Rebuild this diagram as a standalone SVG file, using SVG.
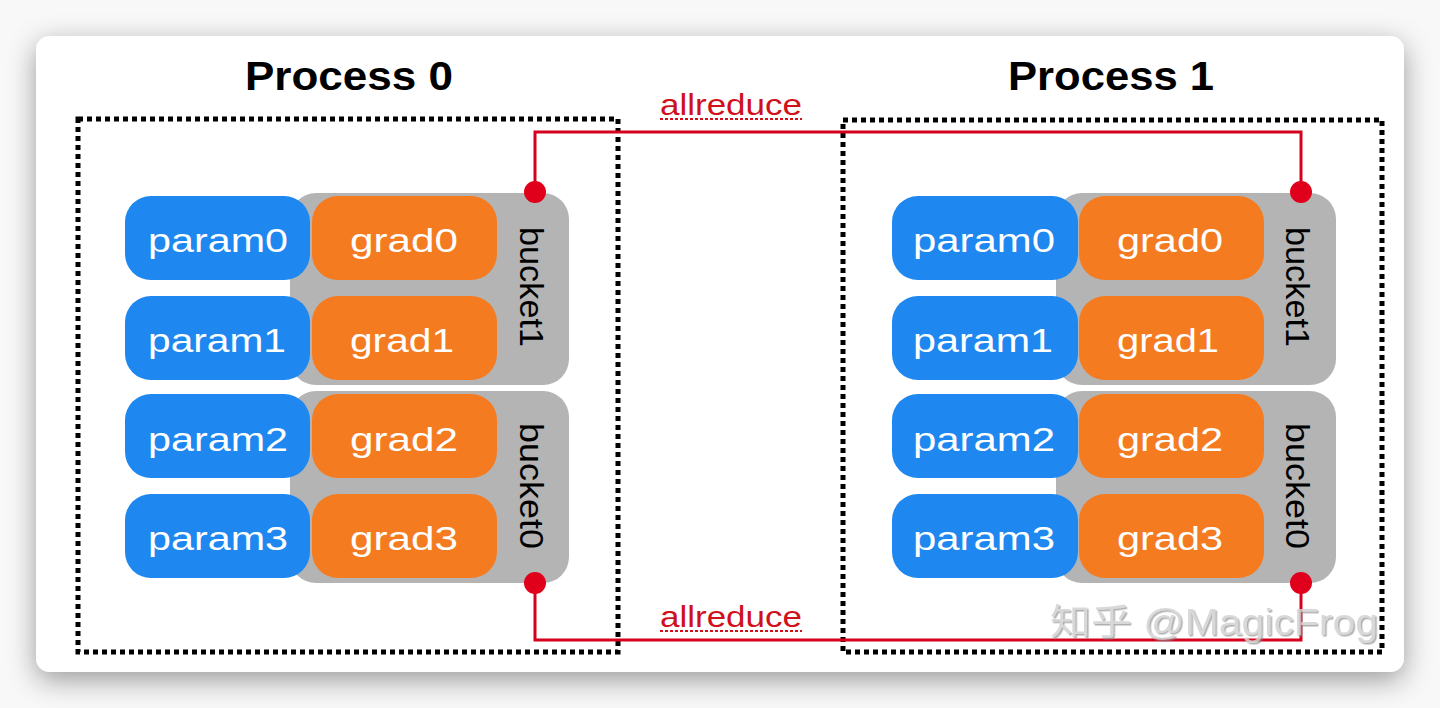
<svg xmlns="http://www.w3.org/2000/svg" width="1440" height="708" viewBox="0 0 1440 708">
<defs>
<filter id="shadow" x="-10%" y="-15%" width="120%" height="135%">
<feDropShadow dx="0" dy="8" stdDeviation="14" flood-color="#000" flood-opacity="0.38"/>
</filter>
<filter id="emboss" x="-5%" y="-20%" width="110%" height="140%">
<feDropShadow dx="1.5" dy="1.5" stdDeviation="0.6" flood-color="#8a8a8a" flood-opacity="0.8"/>
</filter>
</defs>
<style>
.title{font-family:"Liberation Sans",Arial,sans-serif;font-weight:bold;font-size:40px;fill:#000;text-anchor:middle}
.box{font-family:"Liberation Sans",Arial,sans-serif;font-size:33px;fill:#fff;text-anchor:middle}
.bk{font-family:"Liberation Sans",Arial,sans-serif;font-size:33px;fill:#000;text-anchor:middle}
.param{fill:#1e87f0}
.grad{fill:#f47b20}
.bucket{fill:#b4b4b4}
.frame{fill:none;stroke:#000;stroke-width:5;stroke-dasharray:5 4}
.wire{fill:none;stroke:#d5001c;stroke-width:3}
.dot{fill:#e0001b}
.lbl{font-family:"Liberation Sans",Arial,sans-serif;font-size:30px;fill:#d0101b;text-anchor:middle}
.ul{stroke:#d0101b;stroke-width:2;stroke-dasharray:3 2}
.wm{font-family:"Liberation Sans","Noto Sans CJK SC",sans-serif;font-size:36px;fill:#d2d2d2}
</style>
<rect x="0" y="0" width="1440" height="708" fill="#f8f8f8"/>
<rect x="36" y="36" width="1368" height="636" rx="14" fill="#fff" filter="url(#shadow)"/>

<g id="process0">
<text class="title" x="349" y="90" textLength="208" lengthAdjust="spacingAndGlyphs">Process 0</text>
<rect class="frame" x="78" y="119" width="540" height="533"/>
<g id="p0-bucket1">
<rect class="bucket" x="290" y="193" width="279" height="192" rx="26"/>
<text class="bk" transform="translate(520,287) rotate(90)" textLength="120" lengthAdjust="spacingAndGlyphs">bucket1</text>
</g>
<g id="p0-bucket0">
<rect class="bucket" x="290" y="391" width="279" height="192" rx="26"/>
<text class="bk" transform="translate(520,486) rotate(90)" textLength="126" lengthAdjust="spacingAndGlyphs">bucket0</text>
</g>
<g id="p0-param0"><rect class="param" x="125" y="196" width="185" height="84" rx="26"/><text class="box" x="218" y="252" textLength="140" lengthAdjust="spacingAndGlyphs">param0</text></g>
<g id="p0-param1"><rect class="param" x="125" y="296" width="185" height="84" rx="26"/><text class="box" x="217" y="352" textLength="138" lengthAdjust="spacingAndGlyphs">param1</text></g>
<g id="p0-param2"><rect class="param" x="125" y="394" width="185" height="84" rx="26"/><text class="box" x="218" y="451" textLength="140" lengthAdjust="spacingAndGlyphs">param2</text></g>
<g id="p0-param3"><rect class="param" x="125" y="494" width="185" height="84" rx="26"/><text class="box" x="218" y="550" textLength="140" lengthAdjust="spacingAndGlyphs">param3</text></g>
<g id="p0-grad0"><rect class="grad" x="312" y="196" width="185" height="84" rx="26"/><text class="box" x="404" y="252" textLength="108" lengthAdjust="spacingAndGlyphs">grad0</text></g>
<g id="p0-grad1"><rect class="grad" x="312" y="296" width="185" height="84" rx="26"/><text class="box" x="402" y="352" textLength="104" lengthAdjust="spacingAndGlyphs">grad1</text></g>
<g id="p0-grad2"><rect class="grad" x="312" y="394" width="185" height="84" rx="26"/><text class="box" x="404" y="451" textLength="108" lengthAdjust="spacingAndGlyphs">grad2</text></g>
<g id="p0-grad3"><rect class="grad" x="312" y="494" width="185" height="84" rx="26"/><text class="box" x="404" y="550" textLength="108" lengthAdjust="spacingAndGlyphs">grad3</text></g>
</g>

<g id="process1">
<text class="title" x="1111" y="90" textLength="206" lengthAdjust="spacingAndGlyphs">Process 1</text>
<rect class="frame" x="843" y="120" width="539" height="532"/>
<g id="p1-bucket1">
<rect class="bucket" x="1056" y="193" width="280" height="192" rx="26"/>
<text class="bk" transform="translate(1286,287) rotate(90)" textLength="120" lengthAdjust="spacingAndGlyphs">bucket1</text>
</g>
<g id="p1-bucket0">
<rect class="bucket" x="1056" y="391" width="280" height="192" rx="26"/>
<text class="bk" transform="translate(1286,486) rotate(90)" textLength="126" lengthAdjust="spacingAndGlyphs">bucket0</text>
</g>
<g id="p1-param0"><rect class="param" x="892" y="196" width="186" height="84" rx="26"/><text class="box" x="984" y="252" textLength="142" lengthAdjust="spacingAndGlyphs">param0</text></g>
<g id="p1-param1"><rect class="param" x="892" y="296" width="186" height="84" rx="26"/><text class="box" x="983" y="352" textLength="140" lengthAdjust="spacingAndGlyphs">param1</text></g>
<g id="p1-param2"><rect class="param" x="892" y="394" width="186" height="84" rx="26"/><text class="box" x="984" y="451" textLength="142" lengthAdjust="spacingAndGlyphs">param2</text></g>
<g id="p1-param3"><rect class="param" x="892" y="494" width="186" height="84" rx="26"/><text class="box" x="984" y="550" textLength="142" lengthAdjust="spacingAndGlyphs">param3</text></g>
<g id="p1-grad0"><rect class="grad" x="1079" y="196" width="185" height="84" rx="26"/><text class="box" x="1170" y="252" textLength="106" lengthAdjust="spacingAndGlyphs">grad0</text></g>
<g id="p1-grad1"><rect class="grad" x="1079" y="296" width="185" height="84" rx="26"/><text class="box" x="1168" y="352" textLength="102" lengthAdjust="spacingAndGlyphs">grad1</text></g>
<g id="p1-grad2"><rect class="grad" x="1079" y="394" width="185" height="84" rx="26"/><text class="box" x="1170" y="451" textLength="106" lengthAdjust="spacingAndGlyphs">grad2</text></g>
<g id="p1-grad3"><rect class="grad" x="1079" y="494" width="185" height="84" rx="26"/><text class="box" x="1170" y="550" textLength="106" lengthAdjust="spacingAndGlyphs">grad3</text></g>
</g>

<g id="connectors">
<path class="wire" d="M535,192 V132 H1301 V192"/>
<path class="wire" d="M535,583 V640 H1301 V583"/>
<circle class="dot" cx="535" cy="192" r="11"/>
<circle class="dot" cx="1301" cy="192" r="11"/>
<circle class="dot" cx="535" cy="583" r="11"/>
<circle class="dot" cx="1301" cy="583" r="11"/>
<text class="lbl" x="731" y="115" textLength="142" lengthAdjust="spacingAndGlyphs">allreduce</text>
<line class="ul" x1="660" y1="119" x2="802" y2="119"/>
<text class="lbl" x="731" y="627" textLength="142" lengthAdjust="spacingAndGlyphs">allreduce</text>
<line class="ul" x1="660" y1="631" x2="802" y2="631"/>
</g>

<text class="wm" x="1050" y="635" textLength="328" lengthAdjust="spacingAndGlyphs" filter="url(#emboss)" opacity="0.85">知乎 @MagicFrog</text>
</svg>
